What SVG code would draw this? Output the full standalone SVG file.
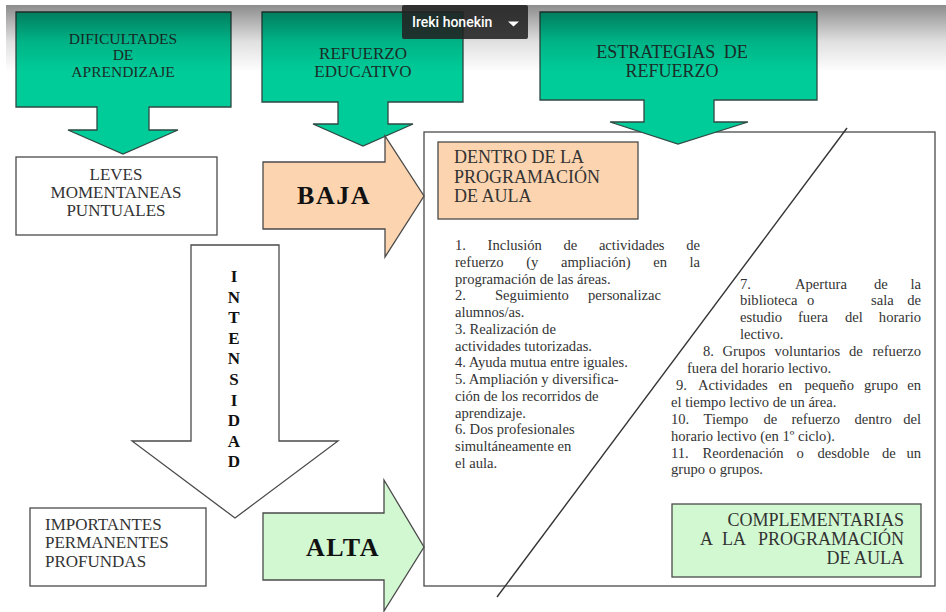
<svg xmlns="http://www.w3.org/2000/svg" width="946" height="612" viewBox="0 0 946 612">
<defs>
<linearGradient id="shade" x1="0" y1="0" x2="0" y2="1">
<stop offset="0" stop-color="#000" stop-opacity="0.45"/>
<stop offset="0.55" stop-color="#000" stop-opacity="0.12"/>
<stop offset="1" stop-color="#000" stop-opacity="0"/>
</linearGradient>
</defs>
<style>
.hdr{fill:#00CC99;stroke:#2d4a42;stroke-width:1.3}
.hdrt{font-family:"Liberation Serif","Times New Roman",serif;fill:#1c2e29;text-anchor:middle}
.box{fill:#fff;stroke:#4a4a4a;stroke-width:1.3}
.peach{fill:#FCD5B0;stroke:#4a4a4a;stroke-width:1.3}
.green{fill:#D2F8D2;stroke:#4a4a4a;stroke-width:1.3}
.lbl{font-family:"Liberation Serif","Times New Roman",serif;font-size:17px;fill:#333}
.big{font-family:"Liberation Serif","Times New Roman",serif;font-size:18px;fill:#333}
.bold{font-family:"Liberation Serif","Times New Roman",serif;font-weight:bold;fill:#111}
.lst{font-family:"Liberation Serif","Times New Roman",serif;font-size:14.6px;fill:#333}
.conn{fill:none;stroke:#333;stroke-width:1.4}
</style>
<rect width="946" height="612" fill="#fff"/>

<g id="frame">
<rect class="box" x="424" y="132" width="511" height="454"/>
</g>

<g id="dificultades">
<polygon class="hdr" points="16,12 231,12 231,107 149,107 149,130 178,130 123,154 68,130 97,130 97,107 16,107"/>
<text class="hdrt" font-size="15.5" x="123" y="44">DIFICULTADES</text>
<text class="hdrt" font-size="15.5" x="123" y="60">DE</text>
<text class="hdrt" font-size="15.5" x="123" y="77">APRENDIZAJE</text>
</g>

<g id="refuerzo-educativo">
<polygon class="hdr" points="262,12 463,12 463,102 388,102 388,124 413,124 363,146 313,124 338,124 338,102 262,102"/>
<text class="hdrt" font-size="17" x="363" y="59">REFUERZO</text>
<text class="hdrt" font-size="17" x="363" y="77">EDUCATIVO</text>
</g>

<g id="estrategias">
<polygon class="hdr" points="540,12 817,12 817,100 714,100 714,122 748,122 678,144 610,122 644,122 644,100 540,100"/>
<text class="hdrt" font-size="18" x="672" y="58" word-spacing="4">ESTRATEGIAS DE</text>
<text class="hdrt" font-size="18" x="672" y="77">REFUERZO</text>
</g>

<g id="leves">
<rect class="box" x="16" y="157" width="201" height="78"/>
<text class="lbl" x="116" y="180" text-anchor="middle">LEVES</text>
<text class="lbl" x="116" y="198" text-anchor="middle">MOMENTANEAS</text>
<text class="lbl" x="116" y="216" text-anchor="middle">PUNTUALES</text>
</g>

<g id="importantes">
<rect class="box" x="30" y="508" width="176" height="78"/>
<text class="lbl" x="45" y="530">IMPORTANTES</text>
<text class="lbl" x="45" y="548">PERMANENTES</text>
<text class="lbl" x="45" y="567">PROFUNDAS</text>
</g>

<g id="intensidad">
<polygon class="box" points="191,245 279,245 279,441 338,441 235,518 132,441 191,441"/>
<g class="bold" font-size="17" text-anchor="middle">
<text x="234" y="282">I</text>
<text x="234" y="302.6">N</text>
<text x="234" y="323.2">T</text>
<text x="234" y="343.8">E</text>
<text x="234" y="364.4">N</text>
<text x="234" y="385">S</text>
<text x="234" y="405.6">I</text>
<text x="234" y="426.2">D</text>
<text x="234" y="446.8">A</text>
<text x="234" y="467.4">D</text>
</g>
</g>

<g id="baja">
<polygon class="peach" points="263,162 385,162 385,136 424,196 385,257 385,229 263,229"/>
<text class="bold" font-size="26" letter-spacing="1.5" x="334" y="204" text-anchor="middle">BAJA</text>
</g>

<g id="alta">
<polygon class="green" points="263,513 384,513 384,480 424,547 384,611 384,580 263,580"/>
<text class="bold" font-size="26" letter-spacing="1.5" x="343" y="556" text-anchor="middle">ALTA</text>
</g>

<g id="connectors">
<line class="conn" x1="847" y1="128" x2="497" y2="597"/>
</g>

<g id="dentro">
<rect class="peach" x="438" y="142" width="200" height="77"/>
<text class="big" x="454" y="163">DENTRO DE LA</text>
<text class="big" x="454" y="183">PROGRAMACIÓN</text>
<text class="big" x="454" y="202">DE AULA</text>
</g>

<g id="complementarias">
<rect class="green" x="672" y="504" width="249" height="73"/>
<text class="big" x="904" y="526" text-anchor="end">COMPLEMENTARIAS</text>
<text class="big" y="545"><tspan x="700">A</tspan><tspan x="722">LA</tspan><tspan x="904" text-anchor="end">PROGRAMACIÓN</tspan></text>
<text class="big" x="904" y="564" text-anchor="end">DE AULA</text>
</g>

<g id="lista-dentro" class="lst">
<text y="250"><tspan x="455">1.</tspan><tspan x="487.6">Inclusión</tspan><tspan x="563.5">de</tspan><tspan x="598.9">actividades</tspan><tspan x="700" text-anchor="end">de</tspan></text>
<text y="266.8"><tspan x="455">refuerzo</tspan><tspan x="526.2">(y</tspan><tspan x="561">ampliación)</tspan><tspan x="653.2">en</tspan><tspan x="700" text-anchor="end">la</tspan></text>
<text x="455" y="283.5">programación de las áreas.</text>
<text y="300.3"><tspan x="455">2.</tspan><tspan x="495">Seguimiento</tspan><tspan x="588">personalizac</tspan></text>
<text x="455" y="317">alumnos/as.</text>
<text x="455" y="333.8">3. Realización de</text>
<text x="455" y="350.5">actividades tutorizadas.</text>
<text x="455" y="367.3">4. Ayuda mutua entre iguales.</text>
<text x="455" y="384">5. Ampliación y diversifica-</text>
<text x="455" y="400.8">ción de los recorridos de</text>
<text x="455" y="417.5">aprendizaje.</text>
<text x="455" y="434.3">6. Dos profesionales</text>
<text x="455" y="451">simultáneamente en</text>
<text x="455" y="467.8">el aula.</text>
</g>

<g id="lista-complementarias" class="lst">
<text y="288.5"><tspan x="740">7.</tspan><tspan x="795">Apertura</tspan><tspan x="874">de</tspan><tspan x="921" text-anchor="end">la</tspan></text>
<text y="305.4"><tspan x="740">biblioteca</tspan><tspan x="807">o</tspan><tspan x="871">sala</tspan><tspan x="921" text-anchor="end">de</tspan></text>
<text y="322.3"><tspan x="740">estudio</tspan><tspan x="798">fuera</tspan><tspan x="845">del</tspan><tspan x="921" text-anchor="end">horario</tspan></text>
<text x="740" y="339.2">lectivo.</text>
<text y="356.1"><tspan x="703">8.</tspan><tspan x="722.5">Grupos</tspan><tspan x="774.5">voluntarios</tspan><tspan x="849">de</tspan><tspan x="921" text-anchor="end">refuerzo</tspan></text>
<text x="687" y="373">fuera del horario lectivo.</text>
<text y="389.9"><tspan x="676">9.</tspan><tspan x="698">Actividades</tspan><tspan x="778.5">en</tspan><tspan x="804.5">pequeño</tspan><tspan x="864">grupo</tspan><tspan x="921" text-anchor="end">en</tspan></text>
<text x="671" y="406.8">el tiempo lectivo de un área.</text>
<text y="423.7"><tspan x="671">10.</tspan><tspan x="703.5">Tiempo</tspan><tspan x="763.5">de</tspan><tspan x="791.5">refuerzo</tspan><tspan x="854.5">dentro</tspan><tspan x="921" text-anchor="end">del</tspan></text>
<text x="671" y="440.6">horario lectivo (en 1º ciclo).</text>
<text y="457.5"><tspan x="671">11.</tspan><tspan x="702.5">Reordenación</tspan><tspan x="796.5">o</tspan><tspan x="817.5">desdoble</tspan><tspan x="882">de</tspan><tspan x="921" text-anchor="end">un</tspan></text>
<text x="671" y="474.4">grupo o grupos.</text>
</g>

<rect x="6" y="5" width="940" height="67" fill="url(#shade)"/>

<g id="ireki-honekin">
<rect x="402" y="5" width="126" height="34" rx="2" fill="#222" fill-opacity="0.88"/>
<text x="412" y="27" font-family="Roboto,'Open Sans',sans-serif" font-size="14" font-weight="500" fill="#fff">Ireki honekin</text>
<polygon points="508,21.5 519,21.5 513.5,26.5" fill="#fff"/>
</g>
</svg>
